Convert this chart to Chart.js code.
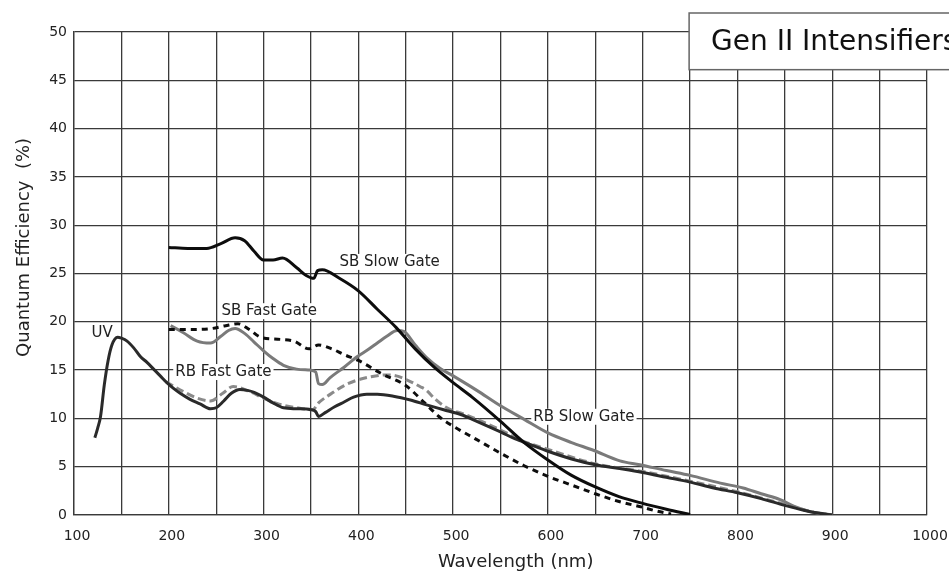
<!DOCTYPE html>
<html>
<head>
<meta charset="utf-8">
<title>Gen II Intensifiers</title>
<script src="https://cdn.jsdelivr.net/npm/chart.js@4.4.1/dist/chart.umd.min.js"></script>
<style>
  html, body { margin:0; padding:0; background:#fff; }
  #wrap { width:949px; height:579px; }
</style>
</head>
<body>
<div id="wrap"><canvas id="qe" width="949" height="579"></canvas></div>
<script>
// Quantum efficiency (%) vs wavelength (nm) for each photocathode
const sbSlowNm = [200, 220, 240, 255, 270, 280, 290, 300, 310, 320, 335, 345, 353, 357, 362, 380, 400, 420, 440, 460, 480, 500, 520, 550, 575, 600, 625, 650, 675, 700, 725, 750];
const sbSlowQe = [27.7, 27.6, 27.6, 28.1, 28.7, 28.4, 27.3, 26.4, 26.4, 26.6, 25.6, 24.8, 24.5, 25.3, 25.4, 24.5, 23.2, 21.3, 19.4, 17.2, 15.3, 13.7, 12.2, 9.7, 7.5, 5.7, 4.1, 2.9, 1.9, 1.2, 0.6, 0.05];

const sbFastNm = [200, 225, 245, 260, 273, 285, 297, 315, 332, 348, 358, 372, 385, 400, 425, 450, 470, 485, 500, 525, 550, 575, 600, 625, 650, 675, 700, 715, 730];
const sbFastQe = [19.2, 19.2, 19.3, 19.6, 19.8, 19.2, 18.4, 18.2, 18.0, 17.2, 17.6, 17.2, 16.6, 16.0, 14.6, 13.4, 11.6, 10.2, 9.2, 7.8, 6.4, 5.1, 4.0, 3.1, 2.2, 1.4, 0.8, 0.4, 0.1];

const rbSlowNm = [202, 215, 230, 244, 255, 263, 270, 280, 290, 300, 310, 321, 335, 349, 355, 358, 362, 370, 385, 399, 410, 420, 430, 441, 448, 460, 472, 486, 500, 525, 550, 575, 600, 625, 648, 676, 697, 725, 750, 782, 806, 825, 845, 860, 877, 900];
const rbSlowQe = [19.6, 18.9, 18.0, 17.8, 18.5, 19.1, 19.3, 18.8, 17.9, 17.0, 16.2, 15.5, 15.1, 15.0, 14.8, 13.6, 13.5, 14.2, 15.3, 16.4, 17.1, 17.8, 18.5, 19.1, 19.0, 17.6, 16.3, 15.2, 14.4, 12.9, 11.3, 9.9, 8.5, 7.5, 6.7, 5.6, 5.2, 4.6, 4.1, 3.3, 2.8, 2.2, 1.6, 0.9, 0.35, 0];

const rbFastNm = [197, 215, 230, 244, 257, 268, 286, 300, 314, 335, 352, 358, 372, 385, 400, 413, 430, 440, 451, 465, 472, 480, 490, 500, 510, 550, 575, 600, 650, 700, 750, 800, 850, 880, 900];
const rbFastQe = [13.8, 12.8, 12.1, 11.8, 12.6, 13.3, 12.75, 12.1, 11.55, 11.1, 10.9, 11.6, 12.6, 13.4, 14.0, 14.3, 14.5, 14.4, 14.0, 13.3, 12.9, 12.1, 11.3, 10.8, 10.5, 8.8, 7.6, 6.8, 5.3, 4.5, 3.5, 2.4, 1.1, 0.3, 0];

const uvNm = [122, 125, 128, 132, 136, 140, 146, 150, 156, 163, 170, 177, 184, 191, 198, 205, 212, 222, 233, 244, 250, 258, 266, 275, 283, 290, 300, 310, 321, 335, 350, 355, 358, 365, 375, 385, 395, 409, 420, 437, 455, 472, 490, 508, 525, 550, 565, 581, 600, 625, 650, 676, 700, 725, 750, 775, 800, 825, 850, 870, 885, 900];
const uvQe = [8.0, 9.0, 10.2, 13.5, 16.0, 17.6, 18.4, 18.3, 18.0, 17.3, 16.4, 15.8, 15.1, 14.4, 13.7, 13.1, 12.6, 12.0, 11.5, 11.0, 11.1, 11.8, 12.6, 13.0, 12.9, 12.7, 12.2, 11.6, 11.1, 11.0, 10.9, 10.7, 10.2, 10.6, 11.2, 11.7, 12.2, 12.5, 12.5, 12.3, 11.9, 11.4, 10.9, 10.4, 9.7, 8.6, 7.9, 7.3, 6.6, 5.8, 5.2, 4.8, 4.4, 3.9, 3.4, 2.8, 2.3, 1.7, 1.0, 0.5, 0.2, 0];

// axis ranges: grid every 50 nm, labels every 100 nm
const xTickLabels = ['100', '200', '300', '400', '500', '600', '700', '800', '900', '1000'];
const yTickLabels = ['0', '5', '10', '15', '20', '25', '30', '35', '40', '45', '50'];

// curve names placed next to each curve (nm, %)
const curveLabels = [
  { text: 'SB Slow Gate', nm: 433, qe: 26.2 },
  { text: 'SB Fast Gate', nm: 306, qe: 21.1 },
  { text: 'RB Fast Gate', nm: 257.6, qe: 14.8 },
  { text: 'RB Slow Gate', nm: 638, qe: 10.17 },
  { text: 'UV', nm: 129.7, qe: 18.8 }
];

const FONT = '"DejaVu Sans", sans-serif';

function pts(xs, ys){ return xs.map((x, i) => ({ x, y: ys[i] })); }

function line(label, xs, ys, color, dash){
  return {
    label, data: pts(xs, ys), borderColor: color, borderWidth: 3,
    borderDash: dash || [], pointRadius: 0, fill: false,
    cubicInterpolationMode: 'monotone', borderCapStyle: 'butt', borderJoinStyle: 'round'
  };
}

// labels, title box and axis titles
const decor = {
  id: 'decor',
  beforeDatasetsDraw(chart){
    const { ctx, scales: { x, y } } = chart;
    ctx.save();
    ctx.font = '15px ' + FONT;
    ctx.textAlign = 'center';
    ctx.textBaseline = 'middle';
    curveLabels.forEach(l => {
      const px = x.getPixelForValue(l.nm), py = y.getPixelForValue(l.qe);
      const w = ctx.measureText(l.text).width;
      ctx.fillStyle = '#fff';
      ctx.fillRect(px - w / 2 - 2, py - 8, w + 4, 16);
      ctx.fillStyle = '#222';
      ctx.fillText(l.text, px, py);
    });
    ctx.restore();
  },
  afterDraw(chart){
    const { ctx, chartArea, scales: { x, y } } = chart;
    ctx.save();
    // title box
    const bx = x.getPixelForValue(749), by = chartArea.top - 19;
    const bh = y.getPixelForValue(46.1) - by;
    ctx.fillStyle = '#fff';
    ctx.fillRect(bx, by, chart.width - bx + 10, bh);
    ctx.strokeStyle = '#666';
    ctx.lineWidth = 1.5;
    ctx.strokeRect(bx, by, chart.width - bx + 10, bh);
    ctx.fillStyle = '#111';
    ctx.font = '28px ' + FONT;
    ctx.textAlign = 'left';
    ctx.textBaseline = 'middle';
    ctx.fillText('Gen II Intensifiers', bx + 22, by + bh / 2 + 1);

    // axis titles
    ctx.fillStyle = '#222';
    ctx.font = '18px ' + FONT;
    ctx.textAlign = 'center';
    ctx.fillText('Wavelength (nm)', x.getPixelForValue(566), chartArea.bottom + 47);
    ctx.translate(24, y.getPixelForValue(27.7));
    ctx.rotate(-Math.PI / 2);
    ctx.fillText('Quantum Efficiency  (%)', 0, 0);
    ctx.restore();
  }
};

const gridColor = '#3a3a3a';

new Chart(document.getElementById('qe'), {
  type: 'line',
  data: {
    datasets: [
      line('SB Slow Gate', sbSlowNm, sbSlowQe, '#0d0d0d'),
      line('UV', uvNm, uvQe, '#2a2a2a'),
      line('SB Fast Gate', sbFastNm, sbFastQe, '#0d0d0d', [6, 5]),
      line('RB Slow Gate', rbSlowNm, rbSlowQe, '#7a7a7a'),
      line('RB Fast Gate', rbFastNm, rbFastQe, '#8a8a8a', [8, 4])
    ]
  },
  options: {
    responsive: false,
    animation: false,
    devicePixelRatio: 1,
    layout: { padding: { left: 0, top: 32, right: 22, bottom: 0 } },
    plugins: { legend: { display: false }, tooltip: { enabled: false } },
    scales: {
      x: {
        type: 'linear', min: 100, max: 1000,
        afterFit: s => { s.height = 64; s.paddingLeft = 0; s.paddingRight = 0; },
        ticks: {
          stepSize: 50, autoSkip: false, maxRotation: 0, padding: 13, labelOffset: 3,
          color: '#222', font: { family: FONT, size: 14 },
          callback: v => xTickLabels.includes(String(v)) ? String(v) : ''
        },
        grid: { color: gridColor, lineWidth: 1.3, drawTicks: false },
        border: { color: gridColor, width: 1.3 }
      },
      y: {
        min: 0, max: 50,
        afterFit: s => { s.width = 74; s.paddingTop = 0; s.paddingBottom = 0; },
        ticks: {
          stepSize: 5, padding: 7, color: '#222', font: { family: FONT, size: 14 },
          callback: v => yTickLabels.includes(String(v)) ? String(v) : ''
        },
        grid: { color: gridColor, lineWidth: 1.3, drawTicks: false },
        border: { color: gridColor, width: 1.3 }
      }
    }
  },
  plugins: [decor]
});
</script>
</body>
</html>
